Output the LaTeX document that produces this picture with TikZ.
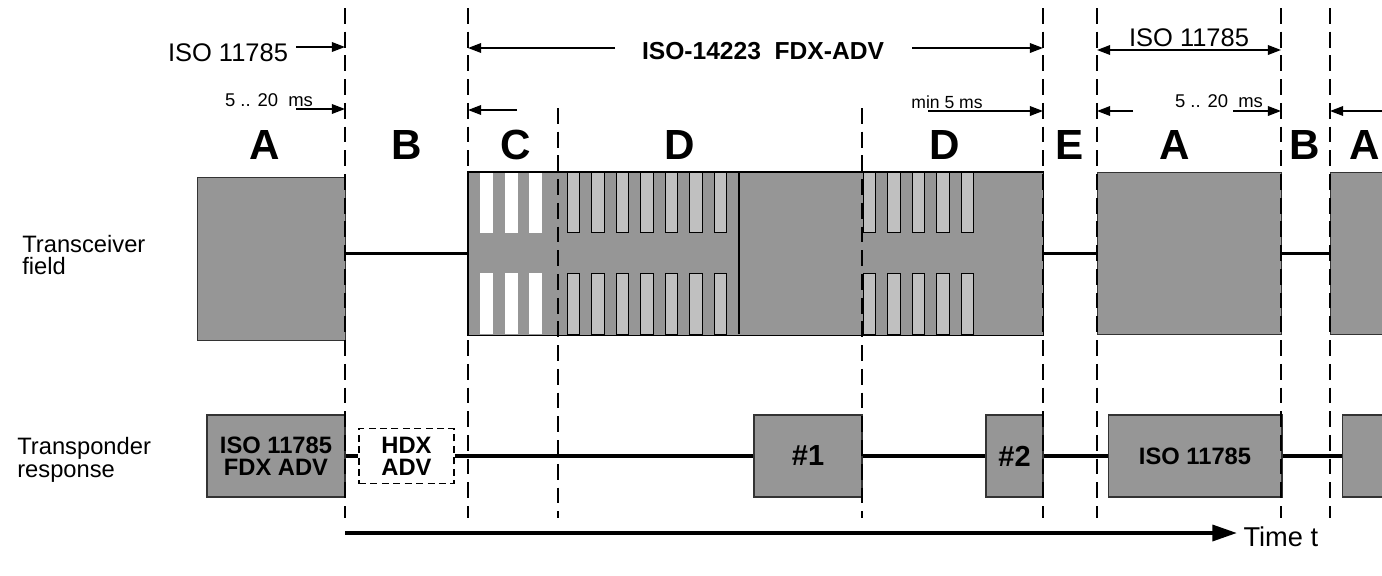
\documentclass[tikz,border=0pt]{standalone}
\usepackage{fontspec}
\setmainfont{Liberation Sans}
\usepackage{xcolor}
\definecolor{sigGray}{HTML}{969696}
\definecolor{sigLight}{HTML}{C0C0C0}
\usepackage{tikz}
\usetikzlibrary{
  arrows.meta,
  positioning
}
\tikzset{
  fieldbox/.style={
    rectangle,fill=sigGray,draw=black!80,line width=0.6pt,
    anchor=north west,inner sep=0pt
  },
  respbox/.style={
    rectangle,fill=sigGray,draw=black!80,line width=0.6pt,
    minimum height=1.64cm,inner sep=0pt,align=center,
    font=\fontsize{13.5}{12.5}\selectfont\bfseries
  },
  hdxbox/.style={
    respbox,fill=white,draw=black,line width=0.9pt,
    dash pattern=on 4pt off 2.5pt,minimum height=1.1cm
  },
  phase/.style={font=\fontsize{24}{26}\selectfont\bfseries,inner sep=0pt},
  sidelbl/.style={anchor=west,inner sep=0pt,align=left,
    font=\fontsize{13.5}{13}\selectfont},
  toplbl/.style={inner sep=0pt,font=\fontsize{14.5}{16}\selectfont},
  mslbl/.style={inner sep=0pt,font=\fontsize{10.5}{12}\selectfont},
  divline/.style={line width=1.5pt,dash pattern=on 9pt off 4.5pt},
  dimarr/.style={-{Triangle[length=7.5pt,width=5.5pt]},line width=0.85pt},
  dimboth/.style={{Triangle[length=7.5pt,width=5.5pt]}-{Triangle[length=7.5pt,width=5.5pt]},line width=0.85pt},
  sigline/.style={line width=1.9pt},
}

\begin{document}
\begin{tikzpicture}[x=0.02cm,y=-0.02cm,
  stripe/.style={fill=sigLight,draw=black,line width=0.5pt},
  gapstripe/.style={fill=white},
  timearr/.style={-{Triangle[length=14pt,width=9pt]},line width=2.2pt}
]
\useasboundingbox (0,0) rectangle (1382,575);

\node[fieldbox,minimum width=2.96cm,minimum height=3.26cm] (fA1) at (197,177) {};
\node[fieldbox,draw=none,minimum width=11.5cm,minimum height=3.24cm] (fCD) at (468,172) {};
\node[fieldbox,minimum width=3.68cm,minimum height=3.24cm] (fA2) at (1097,172) {};
\node[fieldbox,minimum width=1.4cm,minimum height=3.24cm] (fA3) at (1330,172) {};

\foreach \x in {480,504.5,529}{
  \fill[gapstripe] (\x,172) rectangle ++(13,61);
  \fill[gapstripe] (\x,273) rectangle ++(13,61);
}
\foreach \x in {567,591.5,616,640.5,665,689.5,714,863,887.5,912,936.5,961}{
  \draw[stripe] (\x,172) rectangle ++(12.5,60);
  \draw[stripe] (\x,273) rectangle ++(12.5,61);
}
\draw[line width=0.6pt] (fCD.north west) rectangle (fCD.south east);
\draw[line width=0.6pt] (739,172) -- (739,334);

\draw[sigline] (fA1.east |- fCD.west) -- (fCD.west);
\draw[sigline] (fCD.east) -- (fA2.west);
\draw[sigline] (fA2.east) -- (fA3.west);

\node[respbox,minimum width=2.76cm] (r1) at (276,456) {ISO 11785\\FDX ADV};
\node[hdxbox,minimum width=1.9cm] (hdx) at (406.5,456) {HDX\\ADV};
\node[respbox,minimum width=2.16cm,font=\fontsize{16.5}{18}\selectfont\bfseries] (p1) at (808,456) {\#1};
\node[respbox,minimum width=1.14cm,font=\fontsize{16.5}{18}\selectfont\bfseries] (p2) at (1014.5,456) {\#2};
\node[respbox,minimum width=3.48cm] (r2) at (1195,456) {ISO 11785};
\node[respbox,minimum width=1.4cm,anchor=west] (r3) at (1342,456) {};

\draw[sigline] (r1.east) -- (hdx.west);
\draw[sigline] (hdx.east) -- (p1.west);
\draw[sigline] (p1.east) -- (p2.west);
\draw[sigline] (p2.east) -- (r2.west);
\draw[sigline] (r2.east) -- (r3.west);

\foreach \n/\x/\y in {dAB/345/8,dBC/468/8,dCD/558/108,dDD/862/108,dDE/1043/8,dEA/1097/8,dAB2/1281/8,dBA/1330/8}{
  \coordinate (\n) at (\x,\y);
  \draw[divline] (\n) -- (\x,518);
}

\foreach \x/\l in {265/A,407/B,516/C,680/D,945/D,1070/E,1175/A,1305/B,1365/A}
  \node[phase] (ph\x) at (\x,145) {\l};

\node[toplbl] (isoL) at (228,53) {ISO 11785};
\coordinate (isoLa) at (296,47);
\draw[dimarr] (isoLa) -- (isoLa -| dAB);

\node[inner sep=0pt,font=\fontsize{14}{17}\selectfont\bfseries] (fdx) at (763,51) {ISO-14223~~FDX-ADV};
\coordinate (fdxL) at (615,48);
\coordinate (fdxR) at (912,48);
\draw[dimarr] (fdxL) -- (fdxL -| dBC);
\draw[dimarr] (fdxR) -- (fdxR -| dDE);

\node[toplbl] (isoR) at (1189,38) {ISO 11785};
\coordinate (isoRa) at (1189,50);
\draw[dimboth] (isoRa -| dEA) -- (isoRa -| dAB2);

\node[mslbl] (msL) at (269,100) {5 .. 20~~ms};
\coordinate (msLa) at (296,109);
\draw[dimarr] (msLa) -- (msLa -| dAB);

\coordinate (cA) at (517,110);
\draw[dimarr] (cA) -- (cA -| dBC);

\node[mslbl,font=\fontsize{10}{12}\selectfont] (min5) at (947,102) {min 5 ms};
\coordinate (min5a) at (928,111);
\draw[dimarr] (min5a) -- (min5a -| dDE);

\node[mslbl] (msR) at (1219,101) {5 .. 20~~ms};
\coordinate (msRl) at (1133,111);
\coordinate (msRr) at (1233,111);
\draw[dimarr] (msRl) -- (msRl -| dEA);
\draw[dimarr] (msRr) -- (msRr -| dAB2);

\coordinate (nxt) at (1390,111);
\draw[dimarr] (nxt) -- (nxt -| dBA);

\node[sidelbl] (tcv) at (22,255) {Transceiver\\field};
\node[sidelbl] (tsp) at (17,460) {Transponder\\response};

\node[anchor=west,inner sep=3.5pt,font=\fontsize{15.5}{17}\selectfont] (timelbl) at (1237,537) {Time t};
\coordinate (t0) at (345,533);
\draw[timearr] (t0) -- (t0 -| timelbl.west);

\end{tikzpicture}
\end{document}
